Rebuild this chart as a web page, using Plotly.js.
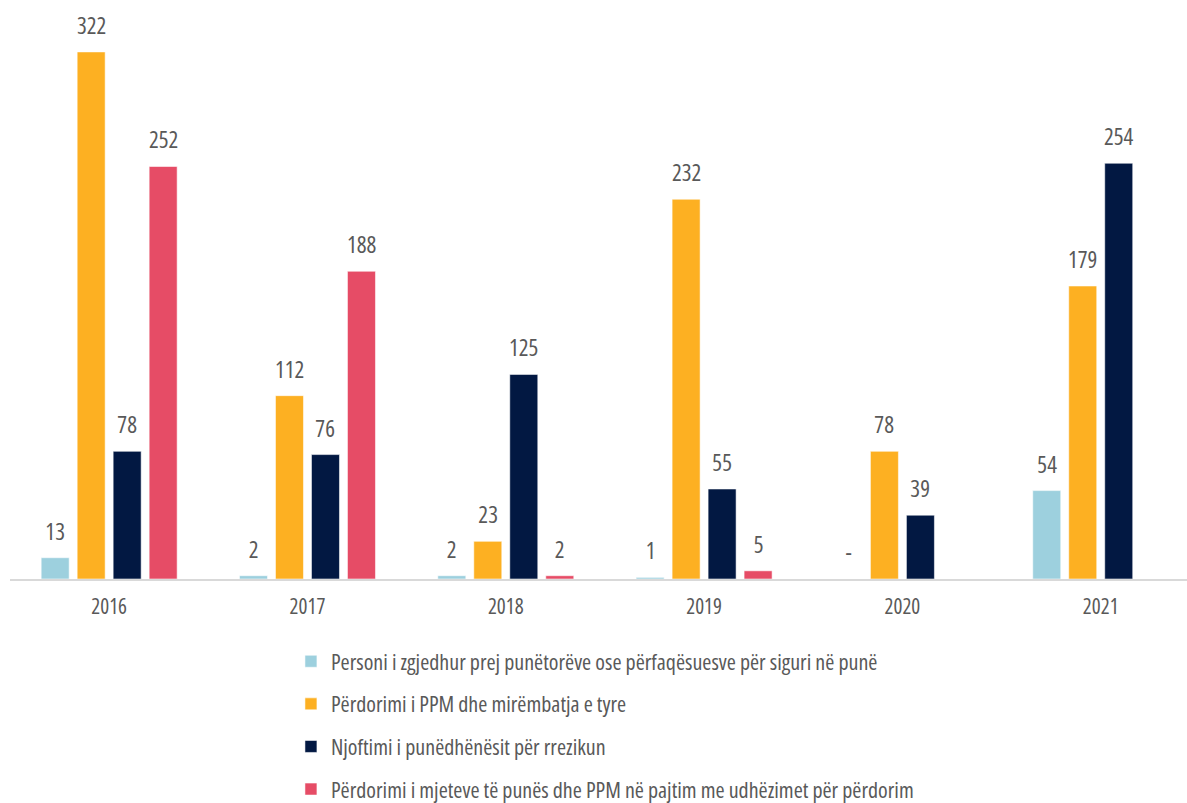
<!DOCTYPE html>
<html>
<head>
<meta charset="utf-8">
<script src="https://cdn.plot.ly/plotly-3.0.1.min.js"></script>
<style>
  html, body { margin: 0; padding: 0; background: #fff; }
  #chart { width: 1187px; height: 803px; }
  #chart text { font-stretch: condensed; }
</style>
</head>
<body>
<div id="chart"></div>
<script>
const years = ['2016', '2017', '2018', '2019', '2020', '2021'];

const seriesNames = [
  'Personi i zgjedhur prej punëtorëve ose përfaqësuesve për siguri në punë',
  'Përdorimi i PPM dhe mirëmbatja e tyre',
  'Njoftimi i punëdhënësit për rrezikun',
  'Përdorimi i mjeteve të punës dhe PPM në pajtim me udhëzimet për përdorim'
];

const personi   = [13, 2, 2, 1, 0, 54];
const ppm       = [322, 112, 23, 232, 78, 179];
const njoftimi  = [78, 76, 125, 55, 39, 254];
const mjetet    = [252, 188, 2, 5, null, null];

const personiLabels  = ['13', '2', '2', '1', '-', '54'];
const ppmLabels      = ['322', '112', '23', '232', '78', '179'];
const njoftimiLabels = ['78', '76', '125', '55', '39', '254'];
const mjetetLabels   = ['252', '188', '2', '5', '', ''];

const colors = ['#9DD0DE', '#FDB022', '#021842', '#E64C66'];

const FONT = 'Open Sans, Roboto Condensed, sans-serif';
const TEXT_COLOR = '#595959';

const allValues = [personi, ppm, njoftimi, mjetet];
const allLabels = [personiLabels, ppmLabels, njoftimiLabels, mjetetLabels];

const traces = allValues.map((vals, i) => ({
  type: 'bar',
  name: seriesNames[i],
  x: years,
  y: vals,
  legendgroup: 'g' + i,
  marker: { color: colors[i], line: { color: 'rgba(255,255,255,0.55)', width: 1 } },
  hoverinfo: 'x+y+name'
}));

const SLOT = 36;
const annotations = [];
allValues.forEach((vals, i) => {
  vals.forEach((v, j) => {
    const lab = allLabels[i][j];
    if (v === null || lab === '') return;
    annotations.push({
      x: j, y: v, xref: 'x', yref: 'y',
      text: lab, showarrow: false,
      xshift: (i - 1.5) * SLOT,
      yanchor: 'middle', yshift: 27,
      font: { family: FONT, size: 23, color: TEXT_COLOR }
    });
  });
});

const layout = {
  width: 1187, height: 803,
  margin: { l: 10, r: 0, t: 10, b: 224, autoexpand: false },
  paper_bgcolor: '#ffffff', plot_bgcolor: '#ffffff',
  barmode: 'group',
  bargap: 0.274,
  bargroupgap: 0.222,
  font: { family: FONT, color: TEXT_COLOR },
  xaxis: {
    type: 'category',
    range: [-0.5, 5.435],
    showgrid: false, zeroline: false,
    showline: true, linecolor: '#D9D9D9', linewidth: 2,
    ticks: '', ticklabelstandoff: 8,
    tickfont: { family: FONT, size: 21, color: TEXT_COLOR },
    fixedrange: true
  },
  yaxis: {
    range: [0, 347.6],
    visible: false, showgrid: false, zeroline: false,
    fixedrange: true
  },
  showlegend: true,
  legend: {
    orientation: 'v',
    traceorder: 'grouped',
    tracegroupgap: 11,
    x: 0.2387, xanchor: 'left',
    y: -0.108, yanchor: 'top',
    font: { family: FONT, size: 22, color: TEXT_COLOR },
    bgcolor: 'rgba(0,0,0,0)'
  },
  annotations: annotations
};

Plotly.newPlot('chart', traces, layout, { displayModeBar: false, staticPlot: true });
</script>
</body>
</html>
